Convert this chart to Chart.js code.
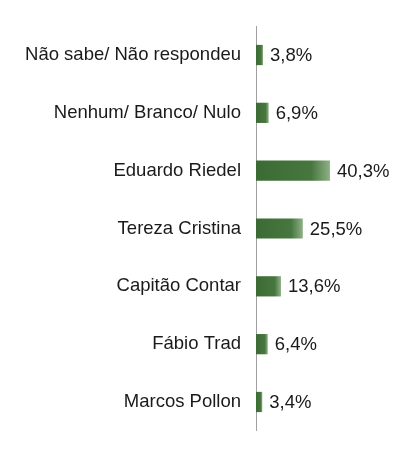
<!DOCTYPE html>
<html><head><meta charset="utf-8">
<script src="https://cdn.jsdelivr.net/npm/chart.js@4"></script>
<style>html,body{margin:0;padding:0;background:#fff}#w{width:419px;height:457px}</style>
</head><body><div id="w"><canvas id="c"></canvas></div>
<script>
const categories = ["Não sabe/ Não respondeu","Nenhum/ Branco/ Nulo","Eduardo Riedel","Tereza Cristina","Capitão Contar","Fábio Trad","Marcos Pollon"];
const values = [3.8,6.9,40.3,25.5,13.6,6.4,3.4];
const valueLabels = ["3,8%","6,9%","40,3%","25,5%","13,6%","6,4%","3,4%"];

const labelPlugin = {
  id:'vl',
  afterDatasetsDraw(chart){
    const ctx=chart.ctx, meta=chart.getDatasetMeta(0);
    ctx.save();
    ctx.font='18.5px "Liberation Sans", Arial, sans-serif';
    ctx.fillStyle='#1a1a1a';ctx.textBaseline='middle';ctx.textAlign='left';
    meta.data.forEach((b,i)=>ctx.fillText(valueLabels[i], b.x+7, b.y+1));
    ctx.restore();
  }
};
new Chart(document.getElementById('c'),{
  type:'bar',
  data:{labels:categories,datasets:[{data:values,
    backgroundColor:(c)=>{
      const ch=c.chart, a=ch.chartArea;
      if(!a) return '#3f6b37';
      const x0=ch.scales.x.getPixelForValue(0), x1=ch.scales.x.getPixelForValue(values[c.dataIndex]);
      const g=ch.ctx.createLinearGradient(x0,0,x1,0);
      g.addColorStop(0,'#3c6a34');g.addColorStop(0.75,'#47773f');g.addColorStop(1,'#8fb086');
      return g;
    },
    categoryPercentage:0.35,barPercentage:1}]},
  options:{indexAxis:'y',responsive:true,maintainAspectRatio:false,animation:false,
    layout:{padding:{top:-15,bottom:-11,left:0,right:7}},
    plugins:{legend:{display:false},tooltip:{enabled:false}},
    scales:{
      x:{display:false,min:0,max:85},
      y:{grid:{display:false,drawTicks:true,tickLength:0},border:{color:'#a0a0a0',width:1},
        ticks:{color:'#1a1a1a',padding:15,font:{family:'"Liberation Sans", Arial, sans-serif',size:18.5}},
        afterFit(s){s.width=256;}}
    }},
  plugins:[labelPlugin]
});
</script></body></html>
